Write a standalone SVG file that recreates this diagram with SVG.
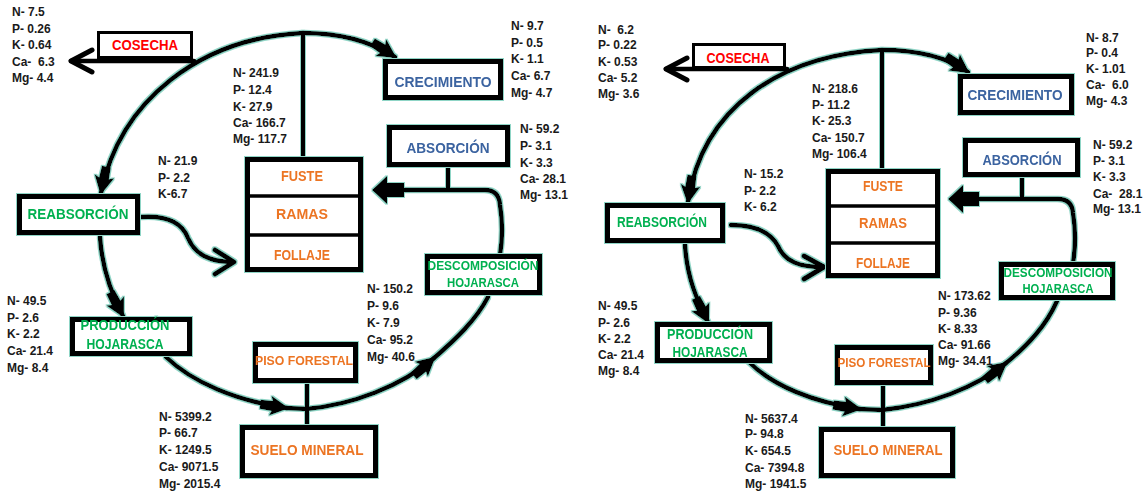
<svg xmlns="http://www.w3.org/2000/svg" width="1144" height="493" viewBox="0 0 1144 493">
<defs>
<style>
.ln{fill:none;stroke:#000;stroke-width:4.5;stroke-linecap:round;stroke-linejoin:round}
.th{stroke-width:4}
.ch{fill:none;stroke:#000;stroke-width:5;stroke-linecap:round;stroke-linejoin:round}
.gl{filter:url(#glow)}
.bx{fill:#fff;stroke:#000;stroke-width:5}
.bt{fill:#fff;stroke:#000;stroke-width:3}
.dv{stroke:#000;stroke-width:3.5}
.num{font-family:"Liberation Sans",Arial,sans-serif;font-weight:bold;font-size:12px;fill:#1a1a1a}
.lb{font-family:"Liberation Sans",Arial,sans-serif;font-weight:bold;text-anchor:middle}
.blue{fill:#3b63a0}.green{fill:#00b050}.orange{fill:#ec7424}.red{fill:#ff0000}
</style>
<filter id="glow" filterUnits="userSpaceOnUse" x="0" y="0" width="1144" height="493">
<feMorphology in="SourceAlpha" operator="dilate" radius="1.4" result="d"/>
<feFlood flood-color="#8fd5c6"/>
<feComposite in2="d" operator="in" result="g"/>
<feMerge><feMergeNode in="g"/><feMergeNode in="SourceGraphic"/></feMerge>
</filter>
<marker id="ah" markerUnits="userSpaceOnUse" viewBox="-28 -13 32 26" markerWidth="32" markerHeight="26" refX="0" refY="0" orient="auto" overflow="visible">
<path d="M2,0 L-17,-10 L-15,-5 L-27,-4.5 L-27,4.5 L-15,5 L-17,10 Z" fill="#000"/>
</marker>
</defs>
<rect width="1144" height="493" fill="#fff"/>

<g id="connectors">
<g class="gl">
<path class="ln th" d="M303,33 L303,158"/>
<path class="ln" d="M303,33 C342,33 372,42 395,57" marker-end="url(#ah)"/>
<path class="ln" d="M303,33 C200,38 120,100 101,193" marker-end="url(#ah)"/>
<path class="ln" d="M100,237 C102,270 112,295 123,316" marker-end="url(#ah)"/>
<path class="ln" d="M166,357 C192,382 236,401 287,408" marker-end="url(#ah)"/>
<path class="ln" d="M286,408 L308,409"/>
<path class="ln" d="M306,409 C352,405 402,386 434,358" marker-end="url(#ah)"/>
<path class="ln" d="M433,359 C456,339 476,320 488,297"/>
<path class="ln" d="M500,255 Q504,230 500,205 Q499,190 485,190 L400,190"/>
<polygon points="372,190 387,176 387,183 404,183 404,197 387,197 387,204" fill="#000"/>
<path class="ln th" d="M448,167 L448,190"/>
<path class="ln th" d="M307,383 L307,426"/>
<path class="ln" d="M141,217 C170,215 183,225 188,238 C195,255 210,262 233,262"/>
<path class="ch" d="M215,250 L234,262 L215,274"/>

<path class="ln th" d="M882,50 L882,170"/>
<path class="ln" d="M882,50 C920,50 948,58 968,72" marker-end="url(#ah)"/>
<path class="ln" d="M882,50 C780,55 702,108 688,202" marker-end="url(#ah)"/>
<path class="ln" d="M685,245 C687,278 697,300 708,322" marker-end="url(#ah)"/>
<path class="ln" d="M749,362 C773,386 813,402 860,409" marker-end="url(#ah)"/>
<path class="ln" d="M858,409 L884,410"/>
<path class="ln" d="M882,410 C930,405 975,388 1006,363" marker-end="url(#ah)"/>
<path class="ln" d="M1005,364 C1028,345 1046,326 1057,301"/>
<path class="ln" d="M1073,263 Q1077,238 1073,213 Q1072,199 1058,199 L976,199"/>
<polygon points="948,199 963,185 963,192 979,192 979,206 963,206 963,213" fill="#000"/>
<path class="ln th" d="M1022,177 L1022,199"/>
<path class="ln th" d="M883,385 L883,428"/>
<path class="ln" d="M731,225 C760,225 772,235 778,246 C785,262 800,267 823,267"/>
<path class="ch" d="M804,256 L824,267 L804,279"/>
</g>
<path class="ln" d="M194,61 L71,61"/>
<path class="ch" d="M92,50 L71,61 L92,72"/>
<path class="ln" d="M787,69 L666,69"/>
<path class="ch" d="M687,58 L666,69 L687,80"/>
</g>

<!-- Left diagram nodes -->
<g id="cosecha-1">
<rect class="bt" x="98.5" y="32.5" width="93" height="25"/>
<text class="lb red" x="145" y="50" font-size="15" textLength="66" lengthAdjust="spacingAndGlyphs">COSECHA</text>
</g>
<g id="crecimiento-1" class="gl">
<rect class="bx" x="385.5" y="61.5" width="115" height="36"/>
<text class="lb blue" x="443" y="87" font-size="15" textLength="97" lengthAdjust="spacingAndGlyphs">CRECIMIENTO</text>
</g>
<g id="absorcion-1" class="gl">
<rect class="bx" x="389.5" y="127.5" width="118" height="37"/>
<text class="lb blue" x="448" y="153" font-size="15" textLength="83" lengthAdjust="spacingAndGlyphs">ABSORCIÓN</text>
</g>
<g id="arbol-1" class="gl">
<rect class="bx" x="247.5" y="159.5" width="113" height="110"/>
<line class="dv" x1="247" y1="196" x2="361" y2="196"/>
<line class="dv" x1="247" y1="235" x2="361" y2="235"/>
<text class="lb orange" x="302" y="181" font-size="15" textLength="42" lengthAdjust="spacingAndGlyphs">FUSTE</text>
<text class="lb orange" x="302" y="219" font-size="15" textLength="52" lengthAdjust="spacingAndGlyphs">RAMAS</text>
<text class="lb orange" x="302" y="260" font-size="15" textLength="56" lengthAdjust="spacingAndGlyphs">FOLLAJE</text>
</g>
<g id="reabsorcion-1" class="gl">
<rect class="bx" x="19.5" y="196.5" width="118" height="36"/>
<text class="lb green" x="78" y="219" font-size="14.5" textLength="101" lengthAdjust="spacingAndGlyphs">REABSORCIÓN</text>
</g>
<g id="produccion-1" class="gl">
<rect class="bx" x="72.5" y="319.5" width="117" height="34"/>
<text class="lb green" x="125" y="330" font-size="14" textLength="89" lengthAdjust="spacingAndGlyphs">PRODUCCIÓN</text>
<text class="lb green" x="125" y="349" font-size="14" textLength="77" lengthAdjust="spacingAndGlyphs">HOJARASCA</text>
</g>
<g id="descomposicion-1" class="gl">
<rect class="bx" x="427.5" y="256.5" width="112" height="36"/>
<text class="lb green" x="483" y="270" font-size="13.5" textLength="111" lengthAdjust="spacingAndGlyphs">DESCOMPOSICIÓN</text>
<text class="lb green" x="483" y="287" font-size="13.5" textLength="72" lengthAdjust="spacingAndGlyphs">HOJARASCA</text>
</g>
<g id="piso-1" class="gl">
<rect class="bx" x="255.5" y="344.5" width="100" height="36"/>
<text class="lb orange" x="304" y="365" font-size="13" textLength="98" lengthAdjust="spacingAndGlyphs">PISO FORESTAL</text>
</g>
<g id="suelo-1" class="gl">
<rect class="bx" x="242.5" y="427.5" width="133" height="48"/>
<text class="lb orange" x="307" y="455" font-size="14.5" textLength="113" lengthAdjust="spacingAndGlyphs">SUELO MINERAL</text>
</g>

<!-- Right diagram nodes -->
<g id="cosecha-2">
<rect class="bt" x="693.5" y="44.5" width="91" height="23"/>
<text class="lb red" x="738" y="63" font-size="15" textLength="63" lengthAdjust="spacingAndGlyphs">COSECHA</text>
</g>
<g id="crecimiento-2" class="gl">
<rect class="bx" x="960.5" y="76.5" width="111" height="36"/>
<text class="lb blue" x="1015" y="100" font-size="15" textLength="95" lengthAdjust="spacingAndGlyphs">CRECIMIENTO</text>
</g>
<g id="absorcion-2" class="gl">
<rect class="bx" x="965.5" y="140.5" width="112" height="34"/>
<text class="lb blue" x="1022" y="165" font-size="15" textLength="79" lengthAdjust="spacingAndGlyphs">ABSORCIÓN</text>
</g>
<g id="arbol-2" class="gl">
<rect class="bx" x="828.5" y="171.5" width="109" height="104"/>
<line class="dv" x1="828" y1="206" x2="938" y2="206"/>
<line class="dv" x1="828" y1="243" x2="938" y2="243"/>
<text class="lb orange" x="883" y="191" font-size="15" textLength="40" lengthAdjust="spacingAndGlyphs">FUSTE</text>
<text class="lb orange" x="883" y="228" font-size="15" textLength="48" lengthAdjust="spacingAndGlyphs">RAMAS</text>
<text class="lb orange" x="883" y="268" font-size="15" textLength="54" lengthAdjust="spacingAndGlyphs">FOLLAJE</text>
</g>
<g id="reabsorcion-2" class="gl">
<rect class="bx" x="607.5" y="205.5" width="115" height="35"/>
<text class="lb green" x="662" y="227" font-size="14" textLength="90" lengthAdjust="spacingAndGlyphs">REABSORCIÓN</text>
</g>
<g id="produccion-2" class="gl">
<rect class="bx" x="657.5" y="324.5" width="112" height="36"/>
<text class="lb green" x="710" y="339" font-size="14" textLength="86" lengthAdjust="spacingAndGlyphs">PRODUCCIÓN</text>
<text class="lb green" x="710" y="357" font-size="14" textLength="75" lengthAdjust="spacingAndGlyphs">HOJARASCA</text>
</g>
<g id="descomposicion-2" class="gl">
<rect class="bx" x="1001.5" y="264.5" width="111" height="33"/>
<text class="lb green" x="1058" y="277" font-size="13.5" textLength="109" lengthAdjust="spacingAndGlyphs">DESCOMPOSICION</text>
<text class="lb green" x="1058" y="293" font-size="13.5" textLength="71" lengthAdjust="spacingAndGlyphs">HOJARASCA</text>
</g>
<g id="piso-2" class="gl">
<rect class="bx" x="837.5" y="347.5" width="93" height="35"/>
<text class="lb orange" x="884" y="367" font-size="12.5" textLength="93" lengthAdjust="spacingAndGlyphs">PISO FORESTAL</text>
</g>
<g id="suelo-2" class="gl">
<rect class="bx" x="821.5" y="429.5" width="131" height="46"/>
<text class="lb orange" x="888" y="455" font-size="14" textLength="109" lengthAdjust="spacingAndGlyphs">SUELO MINERAL</text>
</g>

<!-- Nutrient values -->
<g id="values-1" class="num">
<text x="12" y="16">N- 7.5</text><text x="12" y="33">P- 0.26</text><text x="12" y="49">K- 0.64</text><text x="12" y="66" xml:space="preserve">Ca-  6.3</text><text x="12" y="82">Mg- 4.4</text>
<text x="233" y="77">N- 241.9</text><text x="233" y="94">P- 12.4</text><text x="233" y="111">K- 27.9</text><text x="233" y="127">Ca- 166.7</text><text x="233" y="143">Mg- 117.7</text>
<text x="511" y="30">N- 9.7</text><text x="511" y="47">P- 0.5</text><text x="511" y="63">K- 1.1</text><text x="511" y="80">Ca- 6.7</text><text x="511" y="97">Mg- 4.7</text>
<text x="520" y="133">N- 59.2</text><text x="520" y="150">P- 3.1</text><text x="520" y="167">K- 3.3</text><text x="520" y="183">Ca- 28.1</text><text x="520" y="199">Mg- 13.1</text>
<text x="158" y="165">N- 21.9</text><text x="158" y="182">P- 2.2</text><text x="158" y="198">K-6.7</text>
<text x="7" y="305">N- 49.5</text><text x="7" y="322">P- 2.6</text><text x="7" y="338">K- 2.2</text><text x="7" y="355">Ca- 21.4</text><text x="7" y="372">Mg- 8.4</text>
<text x="367" y="293">N- 150.2</text><text x="367" y="310">P- 9.6</text><text x="367" y="327">K- 7.9</text><text x="367" y="344">Ca- 95.2</text><text x="367" y="361">Mg- 40.6</text>
<text x="159" y="421">N- 5399.2</text><text x="159" y="437">P- 66.7</text><text x="159" y="454">K- 1249.5</text><text x="159" y="471">Ca- 9071.5</text><text x="159" y="488">Mg- 2015.4</text>
</g>
<g id="values-2" class="num">
<text x="598" y="34" xml:space="preserve">N-  6.2</text><text x="598" y="49">P- 0.22</text><text x="598" y="66">K- 0.53</text><text x="598" y="82">Ca- 5.2</text><text x="598" y="98">Mg- 3.6</text>
<text x="812" y="93">N- 218.6</text><text x="812" y="109">P- 11.2</text><text x="812" y="125">K- 25.3</text><text x="812" y="142">Ca- 150.7</text><text x="812" y="158">Mg- 106.4</text>
<text x="1086" y="42">N- 8.7</text><text x="1086" y="57">P- 0.4</text><text x="1086" y="73">K- 1.01</text><text x="1086" y="89" xml:space="preserve">Ca-  6.0</text><text x="1086" y="105">Mg- 4.3</text>
<text x="1093" y="149">N- 59.2</text><text x="1093" y="165">P- 3.1</text><text x="1093" y="181">K- 3.3</text><text x="1093" y="198" xml:space="preserve">Ca-  28.1</text><text x="1093" y="213">Mg- 13.1</text>
<text x="744" y="178">N- 15.2</text><text x="744" y="195">P- 2.2</text><text x="744" y="211">K- 6.2</text>
<text x="598" y="310">N- 49.5</text><text x="598" y="327">P- 2.6</text><text x="598" y="343">K- 2.2</text><text x="598" y="359">Ca- 21.4</text><text x="598" y="375">Mg- 8.4</text>
<text x="938" y="300">N- 173.62</text><text x="938" y="317">P- 9.36</text><text x="938" y="333">K- 8.33</text><text x="938" y="349">Ca- 91.66</text><text x="938" y="365">Mg- 34.41</text>
<text x="745" y="423">N- 5637.4</text><text x="745" y="438">P- 94.8</text><text x="745" y="455">K- 654.5</text><text x="745" y="472">Ca- 7394.8</text><text x="745" y="488">Mg- 1941.5</text>
</g>
</svg>
